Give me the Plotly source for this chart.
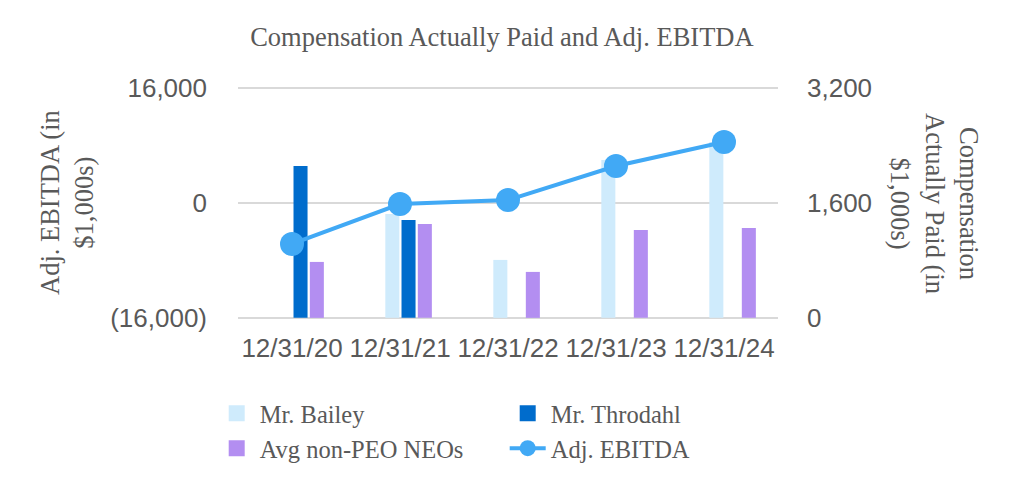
import plotly.graph_objects as go

categories = ["12/31/20", "12/31/21", "12/31/22", "12/31/23", "12/31/24"]
bailey = [None, 1447, 807, 2198, 2450]
throdahl = [2115, 1363, None, None, None]
avg_neos = [779, 1308, 640, 1224, 1252]
adj_ebitda = [-5700, -140, 420, 5150, 8490]

left_tickvals = [-16000, 0, 16000]
left_ticktext = ["(16,000)", "0", "16,000"]
right_tickvals = [0, 1600, 3200]
right_ticktext = ["0", "1,600", "3,200"]

SERIF = "Liberation Serif, Times New Roman, serif"
SANS = "Liberation Sans, Arial, sans-serif"
GRAY = "#595959"
C_BAILEY = "#CFEBFC"
C_THRODAHL = "#006CCC"
C_NEOS = "#B38EF1"
C_EBITDA = "#41A9F5"

fig = go.Figure()
fig.add_trace(go.Bar(x=categories, y=bailey, name="Mr. Bailey", yaxis="y", showlegend=False,
                     legendgroup="bailey",
                     marker=dict(color=C_BAILEY, line_width=0), width=0.13, offset=-0.136))
fig.add_trace(go.Bar(x=categories, y=throdahl, name="Mr. Throdahl", yaxis="y", showlegend=False,
                     legendgroup="throdahl",
                     marker=dict(color=C_THRODAHL, line_width=0), width=0.13, offset=0.014))
fig.add_trace(go.Bar(x=categories, y=avg_neos, name="Avg non-PEO NEOs", yaxis="y", showlegend=False,
                     legendgroup="neos",
                     marker=dict(color=C_NEOS, line_width=0), width=0.13, offset=0.165))
fig.add_trace(go.Scatter(x=categories, y=adj_ebitda, name="Adj. EBITDA", yaxis="y2",
                         mode="lines+markers", line=dict(color=C_EBITDA, width=4),
                         marker=dict(color=C_EBITDA, size=24), showlegend=False,
                         legendgroup="ebitda"))

# legend entries (larger square swatches than the default bar swatch)
for name, color, grp, rank in [("Mr. Bailey", C_BAILEY, "bailey", 1),
                               ("Mr. Throdahl", C_THRODAHL, "throdahl", 2),
                               ("Avg non-PEO NEOs", C_NEOS, "neos", 3)]:
    fig.add_trace(go.Scatter(x=[None], y=[None], name=name, mode="markers", legendgroup=grp,
                             legendrank=rank,
                             marker=dict(symbol="square", color=color, size=16)))
fig.add_trace(go.Scatter(x=[None], y=[None], name="Adj. EBITDA", mode="lines+markers",
                         legendgroup="ebitda", legendrank=4, yaxis="y2",
                         line=dict(color=C_EBITDA, width=4),
                         marker=dict(color=C_EBITDA, size=16)))

fig.update_layout(
    width=1016, height=500,
    margin=dict(l=238, r=238, t=87, b=181),
    paper_bgcolor="white", plot_bgcolor="white",
    barmode="overlay",
    title=dict(text="Compensation Actually Paid and Adj. EBITDA",
               font=dict(family=SERIF, size=26.5, color=GRAY),
               x=0.494, xanchor="center", y=1 - 37 / 500, yanchor="middle", yref="container"),
    xaxis=dict(type="category", showgrid=False, showline=False, ticks="",
               tickfont=dict(family=SANS, size=26, color=GRAY), ticklabelstandoff=11),
    yaxis=dict(side="right", range=[-16, 3216], tickvals=right_tickvals, ticktext=right_ticktext,
               showgrid=True, gridcolor="#D9D9D9", gridwidth=1.5, zeroline=False, showline=False,
               ticks="", tickfont=dict(family=SANS, size=26, color=GRAY), ticklabelstandoff=28),
    yaxis2=dict(side="left", overlaying="y", range=[-16160, 16160], tickvals=left_tickvals,
                ticktext=left_ticktext, showgrid=False, zeroline=False, showline=False, ticks="",
                tickfont=dict(family=SANS, size=26, color=GRAY), ticklabelstandoff=30),
    legend=dict(orientation="h", entrywidth=240, entrywidthmode="pixels",
                x=-0.045, xanchor="left", y=-0.31, yanchor="top",
                font=dict(family=SERIF, size=24.5, color=GRAY),
                traceorder="normal", itemwidth=36, itemsizing="trace"),
    showlegend=True,
    annotations=[
        dict(text="Adj. EBITDA (in<br>$1,000s)", textangle=-90, x=(67 - 238) / 540, y=0.5,
             xref="paper", yref="paper", showarrow=False, xanchor="center", yanchor="middle",
             font=dict(family=SERIF, size=26.5, color=GRAY)),
        dict(text="Compensation<br>Actually Paid (in<br>$1,000s)", textangle=90,
             x=(935 - 238) / 540, y=0.5, xref="paper", yref="paper", showarrow=False,
             xanchor="center", yanchor="middle",
             font=dict(family=SERIF, size=26.5, color=GRAY)),
    ],
)

fig.write_html("out.html")
